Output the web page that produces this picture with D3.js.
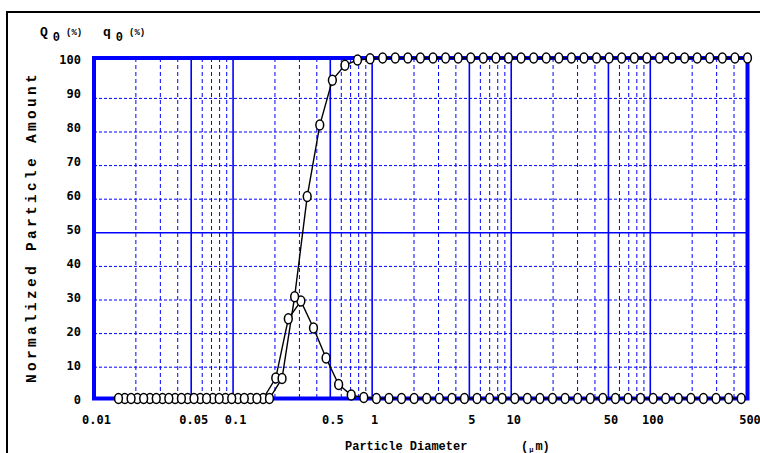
<!DOCTYPE html>
<html><head><meta charset="utf-8">
<script src="https://cdn.jsdelivr.net/npm/d3@7/dist/d3.min.js"></script>
<style>
html,body{margin:0;padding:0;background:#fff;}
svg{display:block;}
</style></head>
<body>
<svg id="c" width="760" height="453"></svg>
<script>
// Particle diameters (µm) at which the cumulative Q0 is given (51 channel edges)
const diamQ = [0.01500,0.01848,0.02276,0.02803,0.03452,0.04251,0.05236,0.06449,0.07943,0.09777,
  0.1204,0.1483,0.1827,0.2250,0.2771,0.3412,0.4202,0.5176,0.6374,0.7850,
  0.9666,1.190,1.466,1.806,2.224,2.739,3.373,4.154,5.117,6.301,
  7.761,9.557,11.77,14.50,17.85,21.99,27.08,33.35,41.07,50.58,
  62.30,76.72,94.48,116.4,143.3,176.5,217.4,267.7,329.7,406.0,500.0];
// Particle diameters (µm) at which the frequency q0 is given (50 channel centres)
const diamq = [0.01665,0.02050,0.02525,0.03110,0.03831,0.04717,0.05809,0.07155,0.08812,0.1085,
  0.1336,0.1646,0.2027,0.2496,0.3074,0.3786,0.4663,0.5743,0.7073,0.8710,
  1.073,1.321,1.627,2.004,2.468,3.040,3.743,4.610,5.678,6.993,
  8.612,10.61,13.06,16.09,19.81,24.40,30.05,37.01,45.59,56.14,
  69.14,85.15,104.8,129.1,159.0,195.9,241.2,297.1,365.9,450.6];
// Cumulative Q0 (%)
const Q0 = [0,0,0,0,0,0,0,0,0,0, 0,0,0,5.9,29.9,59.3,80.3,93.5,97.9,99.4,
  99.8,100,100,100,100,100,100,100,100,100, 100,100,100,100,100,100,100,100,100,100,
  100,100,100,100,100,100,100,100,100,100,100];
// Frequency q0 (%)
const q0 = [0,0,0,0,0,0,0,0,0,0, 0,0,6.0,23.4,28.6,20.7,11.9,4.1,1.0,0.3,
  0,0,0,0,0,0,0,0,0,0, 0,0,0,0,0,0,0,0,0,0, 0,0,0,0,0,0,0,0,0,0];

const xTickLabels = [0.01,0.05,0.1,0.5,1,5,10,50,100,500];
const yTickLabels = [0,10,20,30,40,50,60,70,80,90,100];
const xGridMajor = [0.05,0.1,0.5,1,5,10,50,100];
const xGridMinor = [0.02,0.03,0.04,0.06,0.07,0.08,0.09,0.2,0.3,0.4,0.6,0.7,0.8,0.9,
  2,3,4,6,7,8,9,20,30,40,60,70,80,90,200,300,400];
const yGridMinor = [10,20,30,40,60,70,80,90];
const yGridMajor = [50];

const svg = d3.select("#c");
const BLUE = "#0000ff";

const x = d3.scaleLog().domain([0.01, 500]).range([94, 747.5]);
const y = d3.scaleLinear().domain([0, 100]).range([398.5, 58]);
// the original software spaces its inner grid lines slightly tighter than the data
const yGrid = d3.scaleLinear().domain([0, 100]).range([400.8, 64.8]);

// outer frame
svg.append("rect").attr("x", 7).attr("y", 12).attr("width", 800).attr("height", 500)
  .attr("fill", "#fff").attr("stroke", "#000").attr("stroke-width", 2);

const plot = svg.append("g");
plot.append("rect").attr("x", x(0.01)).attr("y", y(100))
  .attr("width", x(500) - x(0.01)).attr("height", y(0) - y(100)).attr("fill", "#fff");

// grid
plot.selectAll(".vmin").data(xGridMinor).join("line")
  .attr("x1", d => x(d)).attr("x2", d => x(d)).attr("y1", y(100)).attr("y2", y(0))
  .attr("stroke", BLUE).attr("stroke-width", 1).attr("stroke-dasharray", "4,3");
plot.selectAll(".hmin").data(yGridMinor).join("line")
  .attr("x1", x(0.01)).attr("x2", x(500)).attr("y1", d => yGrid(d)).attr("y2", d => yGrid(d))
  .attr("stroke", BLUE).attr("stroke-width", 1).attr("stroke-dasharray", "3,2");
plot.selectAll(".vmaj").data(xGridMajor).join("line")
  .attr("x1", d => x(d)).attr("x2", d => x(d)).attr("y1", y(100)).attr("y2", y(0))
  .attr("stroke", BLUE).attr("stroke-width", 1.6);
plot.selectAll(".hmaj").data(yGridMajor).join("line")
  .attr("x1", x(0.01)).attr("x2", x(500)).attr("y1", d => yGrid(d)).attr("y2", d => yGrid(d))
  .attr("stroke", BLUE).attr("stroke-width", 1.6);

// plot border
plot.append("rect").attr("x", x(0.01)).attr("y", y(100))
  .attr("width", x(500) - x(0.01)).attr("height", y(0) - y(100))
  .attr("fill", "none").attr("stroke", BLUE).attr("stroke-width", 4);

// series
const line = d3.line().x(d => x(d[0])).y(d => y(d[1]));
const dq = diamq.map((d, i) => [d, q0[i]]);
const dQ = diamQ.map((d, i) => [d, Q0[i]]);
[dq, dQ].forEach(data => {
  plot.append("path").datum(data).attr("d", line)
    .attr("fill", "none").attr("stroke", "#000").attr("stroke-width", 1.4);
});
[dq, dQ].forEach(data => {
  plot.append("g").selectAll("ellipse").data(data).join("ellipse")
    .attr("cx", d => x(d[0])).attr("cy", d => y(d[1]))
    .attr("rx", 3.9).attr("ry", 5)
    .attr("fill", "#fff").attr("stroke", "#000").attr("stroke-width", 1.5);
});

// axes labels
const mono = "'DejaVu Sans Mono', monospace";
const yAxis = d3.axisLeft(y.copy().range([400, 59.5])).tickValues(yTickLabels)
  .tickSize(0).tickPadding(0).tickFormat(d3.format("d"));
const gy = svg.append("g").attr("transform", "translate(81,0)").call(yAxis);
gy.select(".domain").remove();
gy.selectAll("text").attr("font-family", mono).attr("font-weight", "bold")
  .attr("font-size", 12).attr("fill", "#000");

const xAxis = d3.axisBottom(x.copy().range([96, 749.5])).tickValues(xTickLabels)
  .tickSize(0).tickPadding(0).tickFormat(d => String(d));
const gx = svg.append("g").attr("transform", "translate(0,415)").call(xAxis);
gx.select(".domain").remove();
gx.selectAll("text").attr("font-family", mono).attr("font-weight", "bold")
  .attr("font-size", 12).attr("fill", "#000");

// titles
const cour = "'Liberation Mono', 'DejaVu Sans Mono', monospace";
svg.append("text").attr("transform", "translate(36,227) rotate(-90)")
  .attr("text-anchor", "middle").attr("font-family", cour).attr("font-weight", "bold")
  .attr("font-size", 14.5).attr("letter-spacing", 3.3).text("Normalized Particle Amount");

svg.append("text").attr("x", 345).attr("y", 450)
  .attr("font-family", cour).attr("font-weight", "bold").attr("font-size", 12)
  .text("Particle Diameter");
const unit = svg.append("text").attr("x", 521).attr("y", 450)
  .attr("font-family", cour).attr("font-weight", "bold").attr("font-size", 12);
unit.append("tspan").text("(");
unit.append("tspan").attr("font-size", 7).attr("dx", 1).attr("dy", 2).text("μ");
unit.append("tspan").attr("dy", -2).attr("dx", 2).text("m)");

// header Q0 (%) q0 (%)
function header(x0, letter) {
  const t = svg.append("text").attr("x", x0).attr("y", 36)
    .attr("font-family", cour).attr("font-weight", "bold").attr("font-size", 13);
  t.append("tspan").text(letter);
  t.append("tspan").attr("dx", 5).attr("dy", 5).attr("font-size", 12).text("0");
  t.append("tspan").attr("dx", 6).attr("dy", -6).attr("font-size", 9).text("(%)");
}
header(40, "Q");
header(103, "q");
</script>
</body></html>
